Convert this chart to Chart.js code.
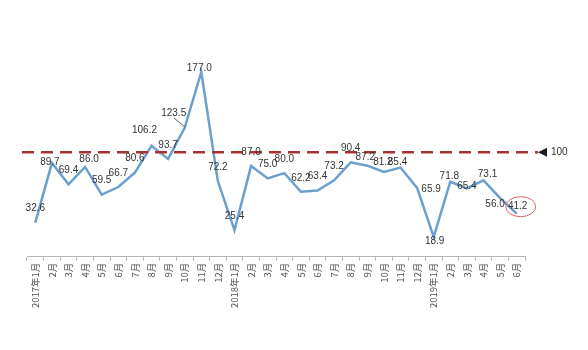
<!DOCTYPE html>
<html>
<head>
<meta charset="utf-8">
<script src="https://cdn.jsdelivr.net/npm/chart.js@4/dist/chart.umd.min.js"></script>
<style>
  html, body { margin: 0; padding: 0; background: #fff; }
  #wrap { width: 588px; height: 350px; }
</style>
</head>
<body>
<div id="wrap"><canvas id="chart" width="588" height="350"></canvas></div>
<script>
// months, Jan 2017 - Jun 2019
const months = [
  "2017年1月", "2月", "3月", "4月", "5月", "6月", "7月", "8月", "9月", "10月", "11月", "12月",
  "2018年1月", "2月", "3月", "4月", "5月", "6月", "7月", "8月", "9月", "10月", "11月", "12月",
  "2019年1月", "2月", "3月", "4月", "5月", "6月"
];
const values = [
  32.6, 89.7, 69.4, 86.0, 59.5, 66.7, 80.6, 106.2, 93.7, 123.5, 177.0, 72.2,
  25.4, 87.0, 75.0, 80.0, 62.2, 63.4, 73.2, 90.4, 87.2, 81.2, 85.4, 65.9,
  18.9, 71.8, 65.4, 73.1, 56.0, 41.2
];
const threshold = 100;
const thresholdLabel = "100";
const highlightIndex = 29; // circled last value

// label nudges (px) where the default "above the point" doesn't fit
const labelNudge = {
  1: [-2, -1], 3: [4, -8], 7: [-7, -16], 9: [-11, -15], 10: [-2, -4],
  20: [-2, -8], 21: [-1, -10], 22: [-3, -5], 23: [14, 1], 24: [1, 4],
  25: [-1, -5], 26: [0, -2], 27: [4, -6], 28: [-5, 6], 29: [1, -7]
};

const refLine = {
  id: "refLine",
  afterDatasetsDraw(chart) {
    const { ctx } = chart;
    const y = chart.scales.y.getPixelForValue(threshold);
    ctx.save();
    ctx.strokeStyle = "#a83232";
    ctx.lineWidth = 2.5;
    ctx.setLineDash([12, 7]);
    ctx.beginPath();
    ctx.moveTo(22, y);
    ctx.lineTo(538, y);
    ctx.stroke();
    ctx.setLineDash([]);
    // arrow head
    ctx.fillStyle = "#1a1a2a";
    ctx.beginPath();
    ctx.moveTo(538, y);
    ctx.lineTo(547, y - 4.5);
    ctx.lineTo(547, y + 4.5);
    ctx.closePath();
    ctx.fill();
    ctx.fillStyle = "#333";
    ctx.font = "10px 'Liberation Sans', Arial, sans-serif";
    ctx.textAlign = "left";
    ctx.textBaseline = "middle";
    ctx.fillText(thresholdLabel, 551, y);
    ctx.restore();
  }
};

const valueLabels = {
  id: "valueLabels",
  afterDatasetsDraw(chart) {
    const { ctx } = chart;
    const pts = chart.getDatasetMeta(0).data;
    ctx.save();
    ctx.font = "10px 'Liberation Sans', Arial, sans-serif";
    ctx.fillStyle = "#333";
    ctx.textAlign = "center";
    ctx.textBaseline = "middle";
    pts.forEach((p, i) => {
      const [dx, dy] = labelNudge[i] || [0, -14];
      const lx = p.x + dx, ly = p.y + dy;
      ctx.fillText(values[i].toFixed(1), lx, ly);
      if (i === 9) {
        // small leader line
        ctx.strokeStyle = "#333";
        ctx.lineWidth = 0.8;
        ctx.beginPath();
        ctx.moveTo(lx, ly + 5);
        ctx.lineTo(p.x, p.y - 1);
        ctx.stroke();
      }
      if (i === highlightIndex) {
        ctx.strokeStyle = "#d8606a";
        ctx.lineWidth = 1;
        ctx.beginPath();
        ctx.ellipse(lx + 3, ly, 15, 10, 0, 0, Math.PI * 2);
        ctx.stroke();
      }
    });
    ctx.restore();
  }
};

new Chart(document.getElementById("chart").getContext("2d"), {
  type: "line",
  data: {
    labels: months,
    datasets: [{
      data: values,
      borderColor: "#6d9fce",
      borderWidth: 2.5,
      pointRadius: 0,
      tension: 0,
      fill: false
    }]
  },
  options: {
    responsive: false,
    animation: false,
    layout: { padding: { left: 27, right: 63, top: 48, bottom: 40 } },
    scales: {
      y: {
        display: false,
        min: 0,
        max: 200
      },
      x: {
        offset: true,
        border: { display: true, color: "#b5b5b5", width: 1 },
        grid: {
          offset: true,
          drawOnChartArea: false,
          drawTicks: true,
          tickLength: 4,
          color: "#b5b5b5"
        },
        ticks: {
          color: "#555",
          padding: 2,
          minRotation: 90,
          maxRotation: 90,
          autoSkip: false,
          font: { size: 9.5, family: "'Noto Sans CJK SC', 'Liberation Sans', sans-serif" }
        }
      }
    },
    plugins: {
      legend: { display: false },
      tooltip: { enabled: false }
    }
  },
  plugins: [refLine, valueLabels]
});
</script>
</body>
</html>
